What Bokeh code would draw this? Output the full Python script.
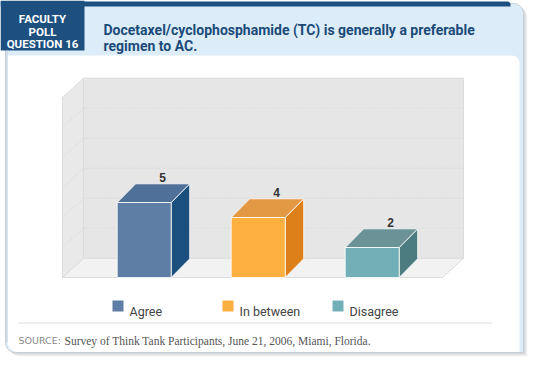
import math
from bokeh.plotting import figure
from bokeh.models import Range1d
from bokeh.core.properties import value
from bokeh.embed import file_html
from bokeh.resources import INLINE

# ---------------- data ----------------
categories = ["Agree", "In between", "Disagree"]
votes = [5, 4, 2]
front_colors = ["#5f7ea6", "#fbb040", "#72afb6"]
side_colors = ["#1a4f7e", "#dd8019", "#4d7c80"]
top_colors = ["#4f7099", "#e39844", "#6a9297"]
axis_max = 12
grid_ticks = [2, 4, 6, 8, 10]

title_lines = ["Docetaxel/cyclophosphamide (TC) is generally a preferable", "regimen to AC."]
badge_lines = ["FACULTY", "POLL", "QUESTION 16"]
source_label = "SOURCE:"
source_text = "Survey of Think Tank Participants, June 21, 2006, Miami, Florida."

# ---------------- geometry (page pixels -> data) ----------------
W, H = 532, 359
PX0, PY0 = 0, 0
SP = 114.0      # px per category step
C0 = 143.7      # page x of first category front centre
Y0 = 277.0      # page y of value 0
UY = 15.0       # px per unit

def fx(px):
    return (px - C0) / SP

def fy(py):
    return (Y0 - py) / UY

p = figure(width=W, height=H, output_backend="svg", toolbar_location=None,
           x_range=Range1d(fx(PX0), fx(PX0 + W)), y_range=Range1d(fy(PY0 + H), fy(PY0)),
           min_border=0, outline_line_color=None)
p.axis.visible = False
p.grid.visible = False
p.background_fill_color = "white"
p.border_fill_color = "white"


def rrect(x0, y0, x1, y1, tl=0, tr=0, br=0, bl=0, n=8):
    pts = []
    def arc(cx, cy, r, a0, a1):
        for k in range(n + 1):
            a = math.radians(a0 + (a1 - a0) * k / n)
            pts.append((cx + r * math.cos(a), cy + r * math.sin(a)))
    if tl: arc(x0 + tl, y0 + tl, tl, 180, 270)
    else: pts.append((x0, y0))
    if tr: arc(x1 - tr, y0 + tr, tr, 270, 360)
    else: pts.append((x1, y0))
    if br: arc(x1 - br, y1 - br, br, 0, 90)
    else: pts.append((x1, y1))
    if bl: arc(x0 + bl, y1 - bl, bl, 90, 180)
    else: pts.append((x0, y1))
    return [fx(a) for a, _ in pts], [fy(b) for _, b in pts]


def poly(xs, ys, **kw):
    p.patch(xs, ys, **kw)

# shadow
for off, al in [(4, 0.04), (3, 0.05), (2, 0.06)]:
    xs, ys = rrect(5 + off, 3 + off, 523 + off, 352 + off, tr=10, bl=10)
    poly(xs, ys, fill_color="black", fill_alpha=al, line_color=None)

# card
xs, ys = rrect(5, 3, 523, 352, tr=10, bl=10)
poly(xs, ys, fill_color="#dcedf9", line_color="#c3ced8", line_width=1)
# top dark bar
xs, ys = rrect(0, 1, 510, 6, tr=3)
poly(xs, ys, fill_color="#1d4f7f", line_color=None)
# badge
xs, ys = rrect(0, 0, 84, 50)
poly(xs, ys, fill_color="#1d4f7f", line_color=None)
# white panel
xs, ys = rrect(7, 55, 519, 351.5, tr=8, bl=10)
poly(xs, ys, fill_color="white", line_color=None)
# left border line
p.line([fx(6.5), fx(6.5)], [fy(50), fy(342)], line_color="#c3ced8", line_width=1)

# badge text
badge_y = [18.5, 31, 43.5]
p.text([fx(42)] * 3, [fy(y) for y in badge_y], text=badge_lines, text_color="white",
       text_font=value("Roboto"), text_font_size="11.5px", text_font_style="bold",
       text_align="center", text_baseline="alphabetic")

# title
p.text([fx(103)] * 2, [fy(29), fy(45)], text=title_lines, text_color="#1b4a78",
       text_font=value("Roboto"), text_font_size="14px", text_font_style="bold",
       text_align="left", text_baseline="alphabetic")

# ---------------- 3D chart ----------------
WDX = 21.0 / SP
WDY = 19.3 / UY
fl, fr = fx(62), fx(442)

# floor
poly([fl, fr, fr + WDX, fl + WDX], [0, 0, WDY, WDY], fill_color="#f2f2f2", line_color="#dcdcdc", line_width=1)
# left wall
poly([fl, fl + WDX, fl + WDX, fl], [0, WDY, axis_max + WDY, axis_max], fill_color="#e9e9e9",
     line_color="#dcdcdc", line_width=1)
# back wall
poly([fl + WDX, fr + WDX, fr + WDX, fl + WDX], [WDY, WDY, axis_max + WDY, axis_max + WDY],
     fill_color="#e6e6e6", line_color="#dcdcdc", line_width=1)
# gridlines
for t in grid_ticks:
    p.line([fl + WDX, fr + WDX], [t + WDY, t + WDY], line_color="#d4d4d4", line_dash="1 2", line_width=1)
    p.line([fl, fl + WDX], [t, t + WDY], line_color="#d4d4d4", line_dash="1 2", line_width=1)

# bars
BW = 54.0 / SP
BDX = 18.5 / SP
BDY = 18.7 / UY
for i, (v, fc, sc, tc) in enumerate(zip(votes, front_colors, side_colors, top_colors)):
    l, r = i - BW / 2, i + BW / 2
    poly([r, r + BDX, r + BDX, r], [0, BDY, v + BDY, v], fill_color=sc, line_color="white",
         line_alpha=0.8, line_width=1)
    poly([l, l + BDX, r + BDX, r], [v, v + BDY, v + BDY, v], fill_color=tc, line_color="white",
         line_alpha=0.8, line_width=1)
    p.quad(left=[l], right=[r], bottom=[0], top=[v], fill_color=fc, line_color="white",
           line_alpha=0.8, line_width=1)

p.text([i + BDX for i in range(len(votes))], [v + BDY + 6.5 / UY for v in votes],
       text=[str(v) for v in votes], text_color="#333333", text_font=value("Liberation Sans"),
       text_font_size="12px", text_font_style="bold", text_align="center", text_baseline="alphabetic")

# legend
leg_x = [112, 222, 332]
for lx, c, name in zip(leg_x, front_colors, categories):
    xs, ys = rrect(lx, 300, lx + 11, 311)
    poly(xs, ys, fill_color=c, line_color=None)
p.text([fx(lx + 17) for lx in leg_x], [fy(311)] * 3, text=categories, text_color="#444444",
       text_font=value("Roboto"), text_font_size="12.5px",
       text_align="left", text_baseline="alphabetic")

# separator + source
p.line([fx(18), fx(492)], [fy(322.5), fy(322.5)], line_color="#dedede", line_width=1)
p.text([fx(18)], [fy(340)], text=[source_label], text_color="#888888",
       text_font=value("DejaVu Sans"), text_font_size="9.5px", text_align="left", text_baseline="alphabetic")
p.text([fx(64)], [fy(340)], text=[source_text], text_color="#555555",
       text_font=value("Liberation Serif"), text_font_size="11.5px", text_align="left",
       text_baseline="alphabetic")

open("out.html", "w").write(file_html(p, INLINE))
